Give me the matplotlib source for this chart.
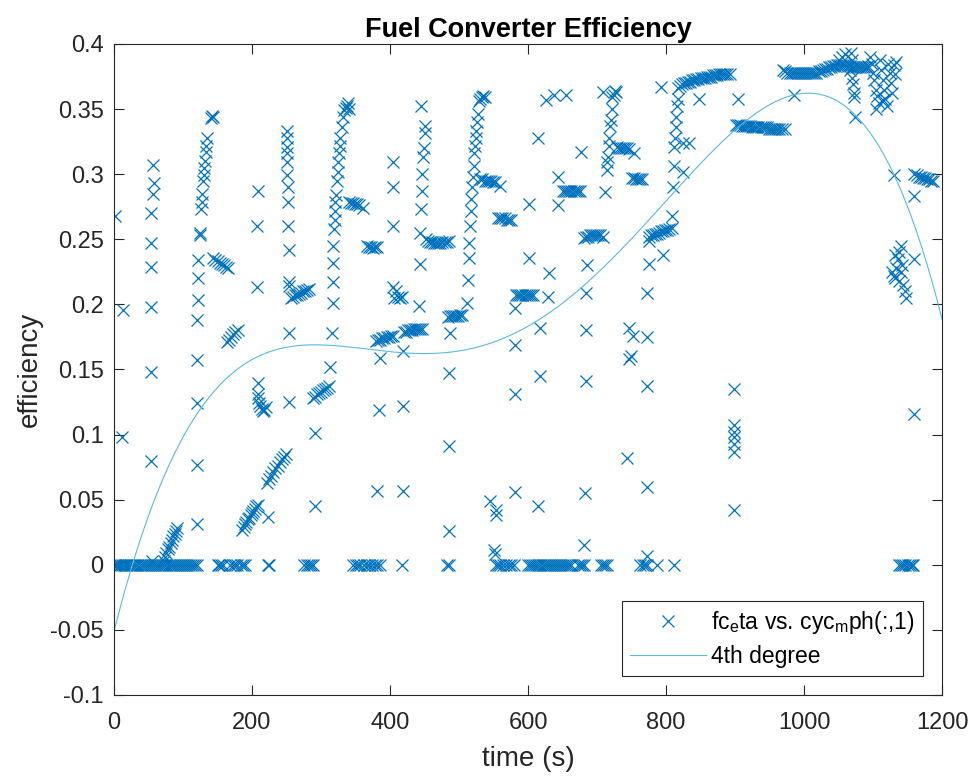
import matplotlib.pyplot as plt
import numpy as np

plt.rcParams['font.family'] = ['Liberation Sans', 'DejaVu Sans']
plt.rcParams['mathtext.fontset'] = 'custom'
plt.rcParams['mathtext.rm'] = 'Liberation Sans'
plt.rcParams['mathtext.it'] = 'Liberation Sans'
plt.rcParams['axes.linewidth'] = 0.8
plt.rcParams['axes.edgecolor'] = '#262626'
plt.rcParams['xtick.color'] = '#262626'
plt.rcParams['ytick.color'] = '#262626'

# times (s) where efficiency is zero
zero_t = [0, 2, 4, 7, 9, 12, 14, 17, 19, 22, 25, 28, 31, 34, 37, 40, 43, 46, 49, 52,
          55, 58, 61, 64, 67, 70, 73, 76, 79, 82, 85, 88, 91, 94, 97, 100, 103, 106,
          109, 112, 115, 118, 121,
          150, 152, 155, 158, 168, 172, 175, 178, 184, 187, 190,
          223, 224, 276, 279, 282, 285, 288,
          347, 350, 353, 356, 362, 366, 370, 374, 378, 381, 385,
          417, 483, 485,
          553, 556, 560, 564, 568, 572, 576, 580,
          600, 603, 606, 609, 612, 615, 618, 621, 624, 627, 630, 633, 636, 639, 642,
          645, 648, 651, 654, 657, 660, 663,
          672, 675, 678, 681, 706, 709, 712, 715, 763, 766, 770, 773, 787, 812,
          1138, 1141, 1144, 1147, 1150, 1153, 1156, 1158]

# vertical runs (time, efficiency)
spikes = [
    (57, 0.307), (58, 0.293), (57, 0.285), (54, 0.270), (54, 0.247), (53, 0.229),
    (54, 0.198), (54, 0.148), (53, 0.080), (55, 0.003),
    (72, 0.003), (74, 0.006), (76, 0.009), (78, 0.012), (80, 0.014), (82, 0.017),
    (84, 0.019), (86, 0.022), (88, 0.024), (90, 0.026), (92, 0.028),
    (121, 0.031), (121, 0.0765), (121, 0.124), (121, 0.157), (121, 0.188),
    (122, 0.203), (122, 0.220), (122, 0.234), (124, 0.253), (125, 0.255),
    (126, 0.273), (127, 0.279), (128, 0.285), (129, 0.295), (130, 0.299),
    (131, 0.305), (132, 0.310), (133, 0.317), (134, 0.322), (135, 0.328),
    (141, 0.343), (142, 0.345), (143, 0.344),
    (208, 0.287), (207, 0.260), (207, 0.213), (208, 0.140), (208, 0.131), (209, 0.128),
    (250, 0.333), (250, 0.328), (251, 0.321), (251, 0.316), (251, 0.309), (251, 0.299),
    (252, 0.290), (252, 0.279), (252, 0.260), (253, 0.242), (253, 0.217), (254, 0.214),
    (254, 0.178), (254, 0.125),
    (316, 0.178), (317, 0.201), (317, 0.217), (318, 0.232), (318, 0.245), (319, 0.258),
    (320, 0.265), (321, 0.272), (321, 0.279), (322, 0.284), (323, 0.295), (324, 0.302),
    (325, 0.309), (326, 0.316), (327, 0.322), (328, 0.328), (330, 0.336), (332, 0.344),
    (334, 0.349), (336, 0.351), (338, 0.352), (339, 0.355), (341, 0.350),
    (405, 0.309), (405, 0.290), (405, 0.260), (405, 0.213), (406, 0.205),
    (442, 0.199), (443, 0.231), (444, 0.255), (445, 0.273), (446, 0.287), (447, 0.300),
    (448, 0.313), (449, 0.320), (450, 0.332), (451, 0.337), (445, 0.352),
    (512, 0.201), (513, 0.219), (514, 0.236), (515, 0.247), (516, 0.260), (517, 0.272),
    (518, 0.281), (519, 0.290), (520, 0.298), (521, 0.306), (522, 0.316), (523, 0.322),
    (524, 0.328), (525, 0.333), (526, 0.340), (527, 0.346),
    (714, 0.303), (715, 0.309), (716, 0.313), (717, 0.322), (718, 0.328), (719, 0.337),
    (720, 0.342), (721, 0.350), (722, 0.359), (724, 0.361), (726, 0.364), (728, 0.363),
    (708, 0.363),
    (809, 0.268), (810, 0.290), (811, 0.306), (812, 0.321), (813, 0.328), (814, 0.336),
    (815, 0.344), (816, 0.352), (817, 0.358), (818, 0.366),
    (898, 0.135), (898, 0.107), (898, 0.102), (898, 0.098), (898, 0.093), (898, 0.087),
    (898, 0.042),
    (1068, 0.393), (1069, 0.388), (1070, 0.374), (1071, 0.369), (1072, 0.362),
    (1073, 0.359), (1074, 0.344), (1067, 0.380),
    (1096, 0.390), (1098, 0.385), (1100, 0.378), (1102, 0.372), (1104, 0.365),
    (1106, 0.360), (1108, 0.355), (1110, 0.388), (1112, 0.380), (1114, 0.372),
    (1116, 0.365), (1118, 0.358), (1120, 0.352), (1122, 0.385), (1124, 0.378),
    (1126, 0.370), (1128, 0.362), (1130, 0.384), (1132, 0.377), (1134, 0.386),
    (1104, 0.350), (1114, 0.357),
    (1128, 0.225), (1130, 0.222), (1132, 0.220), (1134, 0.228), (1136, 0.235),
    (1138, 0.240), (1140, 0.245), (1142, 0.230), (1144, 0.215), (1146, 0.210),
    (1148, 0.205), (1132, 0.238), (1138, 0.218), (1141, 0.225),
]

# near-constant runs (time, efficiency)
plateaus = [
    (144, 0.236), (147, 0.234), (150, 0.233), (153, 0.232), (156, 0.231), (159, 0.230),
    (162, 0.229), (165, 0.228),
    (164, 0.171), (167, 0.173), (170, 0.175), (173, 0.177), (176, 0.179), (179, 0.180),
    (210, 0.124), (212, 0.122), (214, 0.120), (216, 0.118), (218, 0.119), (220, 0.121),
    (186, 0.027), (188, 0.029), (190, 0.031), (192, 0.033), (194, 0.035), (196, 0.036),
    (198, 0.038), (200, 0.040), (202, 0.041), (204, 0.043), (206, 0.045), (208, 0.046),
    (222, 0.063), (225, 0.066), (228, 0.068), (231, 0.071), (234, 0.074), (237, 0.076),
    (240, 0.079), (243, 0.081), (246, 0.083), (249, 0.085),
    (256, 0.205), (259, 0.206), (262, 0.207), (265, 0.207), (268, 0.208), (271, 0.209),
    (274, 0.210), (277, 0.210), (280, 0.211), (283, 0.212),
    (288, 0.128), (291, 0.129), (294, 0.131), (297, 0.132), (300, 0.133), (303, 0.134),
    (306, 0.135), (309, 0.136), (312, 0.137),
    (340, 0.279), (343, 0.278), (346, 0.278), (349, 0.277), (352, 0.277), (355, 0.276),
    (361, 0.274),
    (366, 0.245), (369, 0.244), (372, 0.244), (375, 0.243), (378, 0.244), (381, 0.244),
    (380, 0.172), (383, 0.173), (386, 0.173), (389, 0.174), (392, 0.174), (395, 0.175),
    (398, 0.175), (401, 0.176), (404, 0.176),
    (408, 0.210), (411, 0.206), (414, 0.205), (417, 0.206),
    (420, 0.179), (423, 0.179), (426, 0.180), (429, 0.180), (432, 0.180), (435, 0.181),
    (438, 0.181), (441, 0.181), (444, 0.181), (447, 0.181),
    (452, 0.250), (455, 0.249), (458, 0.248), (461, 0.248), (464, 0.247), (467, 0.247),
    (470, 0.247), (473, 0.247), (476, 0.248), (479, 0.248), (482, 0.248), (485, 0.249),
    (484, 0.190), (487, 0.191), (490, 0.191), (493, 0.191), (496, 0.191), (499, 0.191),
    (502, 0.192), (505, 0.192),
    (529, 0.356), (531, 0.358), (533, 0.359), (535, 0.360), (537, 0.359),
    (531, 0.296), (534, 0.296), (537, 0.295), (540, 0.295), (543, 0.295), (546, 0.295),
    (549, 0.294), (552, 0.294), (560, 0.291),
    (557, 0.266), (560, 0.266), (563, 0.266), (566, 0.266), (569, 0.265), (572, 0.265),
    (575, 0.265),
    (583, 0.207), (586, 0.207), (589, 0.207), (592, 0.207), (595, 0.207), (598, 0.207),
    (601, 0.207), (604, 0.207), (607, 0.207),
    (651, 0.287), (654, 0.287), (657, 0.287), (660, 0.287), (663, 0.287), (666, 0.287),
    (669, 0.287), (672, 0.287), (675, 0.287),
    (681, 0.251), (684, 0.252), (687, 0.252), (690, 0.253), (693, 0.253), (696, 0.253),
    (699, 0.253), (702, 0.253), (705, 0.253), (708, 0.252),
    (729, 0.321), (732, 0.320), (735, 0.320), (738, 0.320), (741, 0.320), (744, 0.320),
    (747, 0.319), (754, 0.316),
    (750, 0.297), (753, 0.297), (756, 0.296), (759, 0.296), (762, 0.296), (765, 0.296),
    (775, 0.252), (778, 0.253), (781, 0.253), (784, 0.254), (787, 0.254), (790, 0.255),
    (793, 0.256), (796, 0.256), (799, 0.257), (802, 0.257), (805, 0.258), (808, 0.259),
    (820, 0.368), (823, 0.369), (826, 0.370), (829, 0.370), (832, 0.371), (835, 0.371),
    (838, 0.372), (841, 0.372), (844, 0.373), (847, 0.373), (850, 0.374), (853, 0.374),
    (856, 0.374), (859, 0.375), (862, 0.375), (865, 0.375), (868, 0.376), (871, 0.376),
    (874, 0.376), (877, 0.377), (880, 0.377), (883, 0.377), (886, 0.377), (889, 0.377),
    (892, 0.377),
    (901, 0.338), (904, 0.338), (907, 0.338), (910, 0.337), (913, 0.337), (916, 0.337),
    (919, 0.337), (922, 0.337), (925, 0.336), (928, 0.336), (931, 0.336), (934, 0.336),
    (937, 0.336), (940, 0.336), (943, 0.336), (946, 0.336), (949, 0.335), (952, 0.335),
    (955, 0.335), (958, 0.335), (961, 0.335), (964, 0.335), (968, 0.335), (972, 0.335),
    (970, 0.380), (973, 0.379), (976, 0.378), (979, 0.378), (982, 0.378), (985, 0.378),
    (988, 0.378), (991, 0.378), (994, 0.378), (997, 0.378), (1000, 0.378), (1003, 0.378),
    (1006, 0.378), (1009, 0.378), (1012, 0.378), (1015, 0.378), (1018, 0.378),
    (1021, 0.379), (1024, 0.379),
    (1027, 0.380), (1030, 0.381), (1033, 0.381), (1036, 0.382), (1039, 0.382),
    (1042, 0.383), (1045, 0.383), (1048, 0.384), (1051, 0.384), (1054, 0.384),
    (1057, 0.384), (1060, 0.384), (1063, 0.383), (1066, 0.383), (1069, 0.382),
    (1072, 0.382), (1075, 0.382), (1078, 0.382), (1081, 0.382), (1084, 0.382),
    (1087, 0.382), (1090, 0.382), (1093, 0.383),
    (1050, 0.388), (1055, 0.390), (1060, 0.392),
    (1160, 0.300), (1163, 0.299), (1166, 0.298), (1169, 0.298), (1172, 0.297),
    (1175, 0.297), (1178, 0.296), (1181, 0.296), (1184, 0.295), (1187, 0.295),
]

# isolated samples (time, efficiency)
singles = [
    (1, 0.268), (13, 0.196), (11, 0.098),
    (223, 0.037), (291, 0.101), (291, 0.045), (313, 0.152),
    (384, 0.119), (381, 0.057), (385, 0.159),
    (419, 0.164), (419, 0.122), (419, 0.057),
    (487, 0.178), (486, 0.147), (485, 0.0915), (485, 0.026),
    (545, 0.049), (553, 0.042), (553, 0.038), (550, 0.011), (552, 0.008),
    (581, 0.197), (581, 0.169), (581, 0.131), (581, 0.056),
    (602, 0.277), (602, 0.236), (614, 0.328), (617, 0.182), (617, 0.145), (614, 0.045),
    (626, 0.357), (638, 0.361), (655, 0.361), (631, 0.224), (629, 0.206),
    (643, 0.298), (643, 0.276),
    (677, 0.317), (684, 0.180), (684, 0.141), (682, 0.055), (681, 0.015),
    (684, 0.209), (686, 0.230), (712, 0.286),
    (747, 0.182), (752, 0.176), (749, 0.160), (747, 0.158), (744, 0.082),
    (773, 0.137), (773, 0.175), (773, 0.209), (773, 0.060), (773, 0.007),
    (795, 0.238), (775, 0.231), (775, 0.249),
    (824, 0.302), (824, 0.324), (833, 0.324), (792, 0.367),
    (848, 0.358), (904, 0.358), (985, 0.361), (1131, 0.299),
    (1160, 0.283), (1160, 0.235), (1160, 0.116),
]

# readings of the 4th degree fit curve
fit_t = [0, 26, 50, 75, 99, 123, 172, 220, 269, 317, 366, 414, 463, 512, 560, 610,
         677, 730, 778, 826, 898, 946, 1004, 1042, 1090, 1129, 1162, 1200]
fit_eff = [-0.053, 0.000, 0.044, 0.082, 0.112, 0.131, 0.153, 0.162, 0.165, 0.165,
           0.164, 0.162, 0.162, 0.165, 0.174, 0.186, 0.214, 0.246, 0.279, 0.306,
           0.337, 0.353, 0.360, 0.357, 0.339, 0.306, 0.257, 0.189]
fit_w = [4, 2, 1, 1, 1, 1, 1, 1, 2, 2, 2, 2, 2, 1, 1, 1,
         1, 1, 1, 1, 1, 2, 4, 2, 1, 1, 1, 4]

pts = np.array(spikes + plateaus + singles)
t = np.concatenate([np.array(zero_t, float), pts[:, 0]])
eff = np.concatenate([np.zeros(len(zero_t)), pts[:, 1]])

coef = np.polyfit(fit_t, fit_eff, 4, w=fit_w)
t_fit = np.linspace(0, 1200, 600)

fig = plt.figure(figsize=(9.76, 7.8), dpi=100)
ax = fig.add_axes([0.1168, 0.109, 0.8484, 0.8346])

ax.plot(t, eff, linestyle='none', marker='x', color='#0072BD',
        markersize=8.5, markeredgewidth=0.9, label=r'fc$_e$ta vs. cyc$_m$ph(:,1)')
ax.plot(t_fit, np.polyval(coef, t_fit), color='#5BB8E0', linewidth=0.8,
        label='4th degree')

ax.set_xlim(0, 1200)
ax.set_ylim(-0.1, 0.4)
ax.set_xticks(np.arange(0, 1201, 200))
ax.set_yticks(np.arange(-0.1, 0.401, 0.05))
ax.set_yticklabels(['-0.1', '-0.05', '0', '0.05', '0.1', '0.15', '0.2', '0.25',
                    '0.3', '0.35', '0.4'])
ax.tick_params(direction='in', top=True, right=True, length=7, width=0.8,
               labelsize=17)
ax.tick_params(axis='x', pad=12)
ax.tick_params(axis='y', pad=7.5)
ax.set_xlabel('time (s)', fontsize=20, color='#262626', labelpad=9)
ax.set_ylabel('efficiency', fontsize=20, color='#262626', labelpad=5)
ax.set_title('Fuel Converter Efficiency', fontsize=19.5, fontweight='bold', pad=5)

leg = ax.legend(loc='lower right', fontsize=16.5, fancybox=False, framealpha=1,
                edgecolor='#262626', handlelength=3.3, handletextpad=0.25,
                borderpad=0.35, labelspacing=0.4, borderaxespad=0.83)
leg.get_frame().set_linewidth(0.8)

plt.savefig('out.png', dpi=100)
